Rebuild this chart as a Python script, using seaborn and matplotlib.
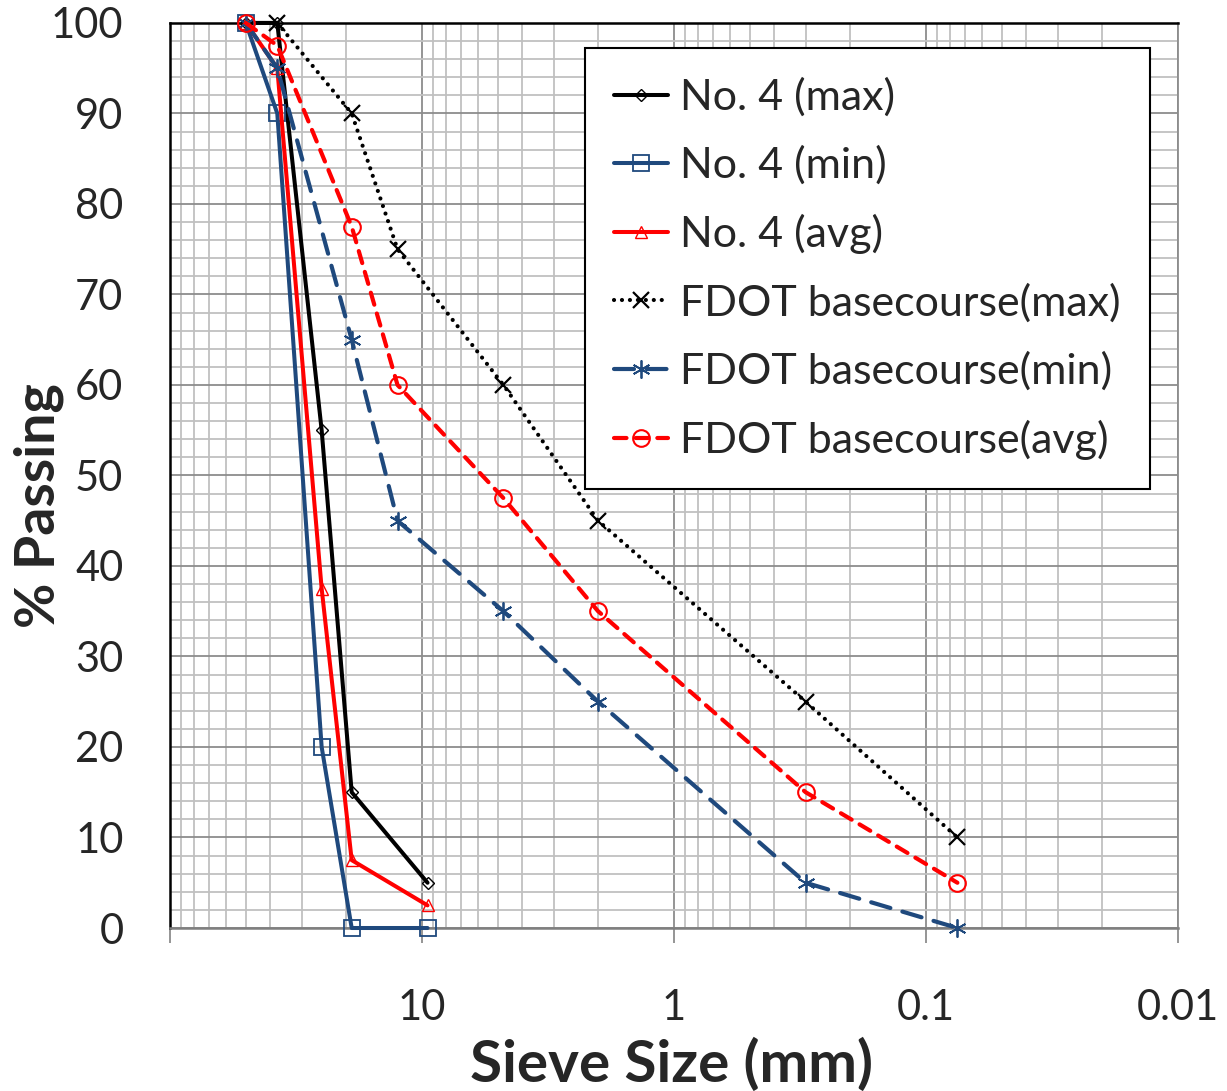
import matplotlib
matplotlib.use("Agg")
import matplotlib.pyplot as plt
import seaborn as sns
from matplotlib.ticker import FixedLocator, LogLocator, MultipleLocator, NullFormatter, FixedFormatter

# ---- data (sieve size in mm, % passing) ----
sieve_no4 = [50, 37.5, 25, 19, 9.5]
no4_max = [100, 100, 55, 15, 5]
no4_min = [100, 90, 20, 0, 0]
no4_avg = [100, 95, 37.5, 7.5, 2.5]

sieve_fdot_max = [37.5, 19, 12.5, 4.75, 2.0, 0.3, 0.075]
fdot_max = [100, 90, 75, 60, 45, 25, 10]
sieve_fdot = [50, 37.5, 19, 12.5, 4.75, 2.0, 0.3, 0.075]
fdot_min = [100, 95, 65, 45, 35, 25, 5, 0]
fdot_avg = [100, 97.5, 77.5, 60, 47.5, 35, 15, 5]

labels = ["No. 4 (max)", "No. 4 (min)", "No. 4 (avg)",
          "FDOT basecourse(max)", "FDOT basecourse(min)", "FDOT basecourse(avg)"]
x_ticks = [10, 1, 0.1, 0.01]
x_ticklabels = ["10", "1", "0.1", "0.01"]

sns.set_style("white")
plt.rcParams["font.family"] = ["Lato", "DejaVu Sans"]

BLUE = "#1F497D"
RED = "#FF0000"

fig = plt.figure(figsize=(12.27, 10.91), dpi=100)
ax = fig.add_axes([0.1385, 0.1494, 0.8215, 0.8296])
ax.set_xscale("log")

styles = [
    dict(x=sieve_no4, y=no4_max, color="black", linestyle="-", linewidth=2.9,
         marker="D", markersize=6, mfc="none", mec="black", mew=1.0),
    dict(x=sieve_no4, y=no4_min, color=BLUE, linestyle="-", linewidth=2.9,
         marker="s", markersize=12, mfc="none", mec=BLUE, mew=1.3),
    dict(x=sieve_no4, y=no4_avg, color=RED, linestyle="-", linewidth=2.9,
         marker="^", markersize=9, mfc="none", mec=RED, mew=1.0),
    dict(x=sieve_fdot_max, y=fdot_max, color="black", linestyle=(0, (0.01, 1.9)),
         linewidth=3.0, dash_capstyle="round",
         marker="x", markersize=12, mfc="none", mec="black", mew=1.6),
    dict(x=sieve_fdot, y=fdot_min, color=BLUE, linestyle=(0, (4.8, 3.0)), linewidth=3.0,
         dash_capstyle="round",
         marker=(6, 2, 0), markersize=13, mfc="none", mec=BLUE, mew=1.3),
    dict(x=sieve_fdot, y=fdot_avg, color=RED, linestyle=(0, (3.0, 2.2)), linewidth=3.0,
         dash_capstyle="round",
         marker="o", markersize=12, mfc="none", mec=RED, mew=1.5),
]

for lab, st in zip(labels, styles):
    st = dict(st)
    xs = st.pop("x")
    ys = st.pop("y")
    sns.lineplot(x=xs, y=ys, ax=ax, estimator=None, sort=False, label=lab,
                 clip_on=False, zorder=3, **st)

ax.set_xlim(100, 0.01)
ax.set_ylim(0, 100)

# ticks and grid
ax.xaxis.set_major_locator(FixedLocator([100] + x_ticks))
ax.xaxis.set_major_formatter(FixedFormatter([""] + x_ticklabels))
ax.xaxis.set_minor_locator(LogLocator(base=10, subs=range(2, 10), numticks=20))
ax.xaxis.set_minor_formatter(NullFormatter())
ax.yaxis.set_major_locator(MultipleLocator(10))
ax.yaxis.set_minor_locator(MultipleLocator(2))

ax.grid(which="major", color="#8c8c8c", linewidth=1.3)
ax.grid(which="minor", color="#c0c0c0", linewidth=1.3)
ax.set_axisbelow(True)

ax.tick_params(axis="x", which="major", bottom=True, length=11, width=1.3,
               color="#8c8c8c", labelsize=30, pad=33, direction="out")
ax.tick_params(axis="x", which="minor", bottom=False)
ax.tick_params(axis="y", which="both", left=False, labelsize=30, pad=30)

for s in ["left", "top"]:
    ax.spines[s].set_color("black")
    ax.spines[s].set_linewidth(1.8)
ax.spines["bottom"].set_color("#7f7f7f")
ax.spines["bottom"].set_linewidth(1.8)
ax.spines["right"].set_color("#8c8c8c")
ax.spines["right"].set_linewidth(1.3)

ax.set_xlabel("Sieve Size (mm)", fontsize=42, fontweight="bold")
ax.set_ylabel("% Passing", fontsize=40, fontweight="bold")
ax.xaxis.set_label_coords(0.498, -0.1215)
ax.yaxis.set_label_coords(-0.105, 0.467)

leg = ax.legend(loc="upper right", bbox_to_anchor=(0.972, 0.972), fontsize=31,
                frameon=True, fancybox=False, framealpha=1, edgecolor="black",
                handlelength=1.25, handletextpad=0.28, labelspacing=0.67,
                borderpad=0.68, borderaxespad=0)
leg.get_frame().set_linewidth(1.5)

fig.savefig("out.png", dpi=100)
